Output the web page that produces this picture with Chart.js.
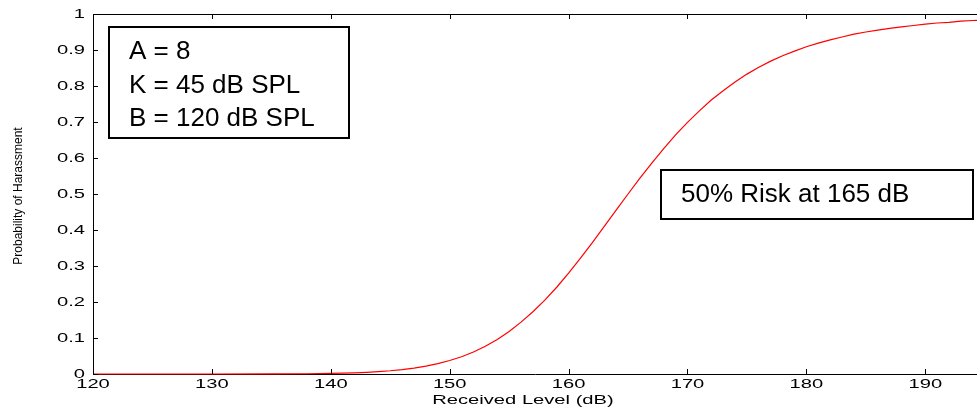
<!DOCTYPE html>
<html>
<head>
<meta charset="utf-8">
<script src="https://cdn.jsdelivr.net/npm/chart.js@4.4.1/dist/chart.umd.min.js"></script>
<style>
html,body{margin:0;padding:0;background:#fff;}
#wrap{width:977px;height:409px;}
</style>
</head>
<body>
<div id="wrap"><canvas id="c" width="977" height="409"></canvas></div>
<script>
// Data
const levels = [120,125,130,135,138,140,141,142,143,144,145,146,147,148,149,150,151,152,153,154,155,156,157,158,159,160,161,162,163,164,165,166,167,168,169,170,171,172,173,174,175,176,177,178,179,180,181,182,183,184,185,186,187,188,189,190,191,192,193,194,195];
const risk = [0,0,0,0.0002,0.0007,0.0015,0.0022,0.0033,0.0046,0.0065,0.009,0.0123,0.0165,0.022,0.029,0.0376,0.048,0.061,0.077,0.096,0.118,0.144,0.173,0.205,0.241,0.28,0.322,0.365,0.41,0.455,0.5,0.544,0.586,0.626,0.664,0.699,0.731,0.761,0.787,0.811,0.833,0.852,0.869,0.884,0.897,0.909,0.919,0.928,0.936,0.944,0.95,0.955,0.96,0.964,0.968,0.972,0.975,0.977,0.98,0.982,0.983];
const xTicks = [120,130,140,150,160,170,180,190];
const yTicks = [0,0.1,0.2,0.3,0.4,0.5,0.6,0.7,0.8,0.9,1];
const yTickLabels = ['0','0.1','0.2','0.3','0.4','0.5','0.6','0.7','0.8','0.9','1'];
const xTitle = 'Received Level (dB)';
const yTitle = 'Probability of Harassment';
const paramLines = ['A = 8','K = 45 dB SPL','B = 120 dB SPL'];
const riskNote = '50% Risk at 165 dB';

const AXFONT = '13px "Liberation Sans", Arial, sans-serif';
const STRETCH = 1.55;

function stretchedText(ctx, txt, x, y, align, sx) {
  ctx.save();
  ctx.translate(x, y);
  ctx.scale(sx, 1);
  ctx.textAlign = align;
  ctx.textBaseline = 'middle';
  ctx.fillText(txt, 0, 0);
  ctx.restore();
}

const decor = {
  id: 'decor',
  afterDraw(chart) {
    const ctx = chart.ctx;
    const xs = chart.scales.x, ys = chart.scales.y;
    const a = chart.chartArea;
    ctx.save();
    ctx.strokeStyle = '#000';
    ctx.lineWidth = 1;
    // top border
    ctx.beginPath();
    ctx.moveTo(a.left, a.top + 0.5);
    ctx.lineTo(a.right, a.top + 0.5);
    ctx.stroke();
    // inward ticks
    ctx.beginPath();
    xTicks.forEach(v => {
      const px = Math.round(xs.getPixelForValue(v)) + 0.5;
      ctx.moveTo(px, a.bottom); ctx.lineTo(px, a.bottom - 5);
      ctx.moveTo(px, a.top); ctx.lineTo(px, a.top + 5);
    });
    yTicks.forEach(v => {
      const py = Math.round(ys.getPixelForValue(v)) + 0.5;
      ctx.moveTo(a.left, py); ctx.lineTo(a.left + 5, py);
    });
    ctx.stroke();
    // tick labels
    ctx.fillStyle = '#000';
    ctx.font = AXFONT;
    xTicks.forEach(v => {
      stretchedText(ctx, String(v), xs.getPixelForValue(v), a.bottom + 10, 'center', STRETCH);
    });
    yTicks.forEach((v, i) => {
      stretchedText(ctx, yTickLabels[i], a.left - 8, ys.getPixelForValue(v), 'right', STRETCH);
    });
    // axis titles
    stretchedText(ctx, xTitle, 523, a.bottom + 26, 'center', STRETCH);
    ctx.save();
    ctx.translate(19, 196);
    ctx.rotate(-Math.PI / 2);
    ctx.font = '12px "Liberation Sans", Arial, sans-serif';
    ctx.textAlign = 'center';
    ctx.textBaseline = 'middle';
    ctx.fillText(yTitle, 0, 0);
    ctx.restore();
    // annotation boxes
    ctx.lineWidth = 2;
    ctx.fillStyle = '#fff';
    ctx.fillRect(109, 27, 240, 111);
    ctx.strokeRect(109, 27, 240, 111);
    ctx.fillRect(661, 170, 312, 49);
    ctx.strokeRect(661, 170, 312, 49);
    ctx.fillStyle = '#000';
    ctx.font = '26px "Liberation Sans", Arial, sans-serif';
    ctx.textAlign = 'left';
    ctx.textBaseline = 'middle';
    paramLines.forEach((t, i) => ctx.fillText(t, 129, 52 + i * 33.5));
    ctx.fillText(riskNote, 681, 195);
    ctx.restore();
  }
};

new Chart(document.getElementById('c'), {
  type: 'line',
  data: {
    datasets: [{
      data: levels.map((l, i) => ({x: l, y: risk[i]})),
      borderColor: '#ff0000',
      borderWidth: 1.2,
      pointRadius: 0,
      tension: 0,
      fill: false,
      clip: false
    }]
  },
  options: {
    responsive: false,
    animation: false,
    devicePixelRatio: 1,
    layout: {padding: {top: 14, right: 0, left: 0, bottom: 0}},
    plugins: {legend: {display: false}, tooltip: {enabled: false}},
    scales: {
      x: {
        type: 'linear', min: 120, max: 194.35,
        grid: {display: false, drawTicks: false},
        border: {display: true, color: '#000', width: 1},
        ticks: {display: false, stepSize: 10},
        afterFit(s) { s.height = 35; }
      },
      y: {
        type: 'linear', min: 0, max: 1,
        grid: {display: false, drawTicks: false},
        border: {display: true, color: '#000', width: 1},
        ticks: {display: false, stepSize: 0.1},
        afterFit(s) { s.width = 93; }
      }
    }
  },
  plugins: [decor]
});
</script>
</body>
</html>
